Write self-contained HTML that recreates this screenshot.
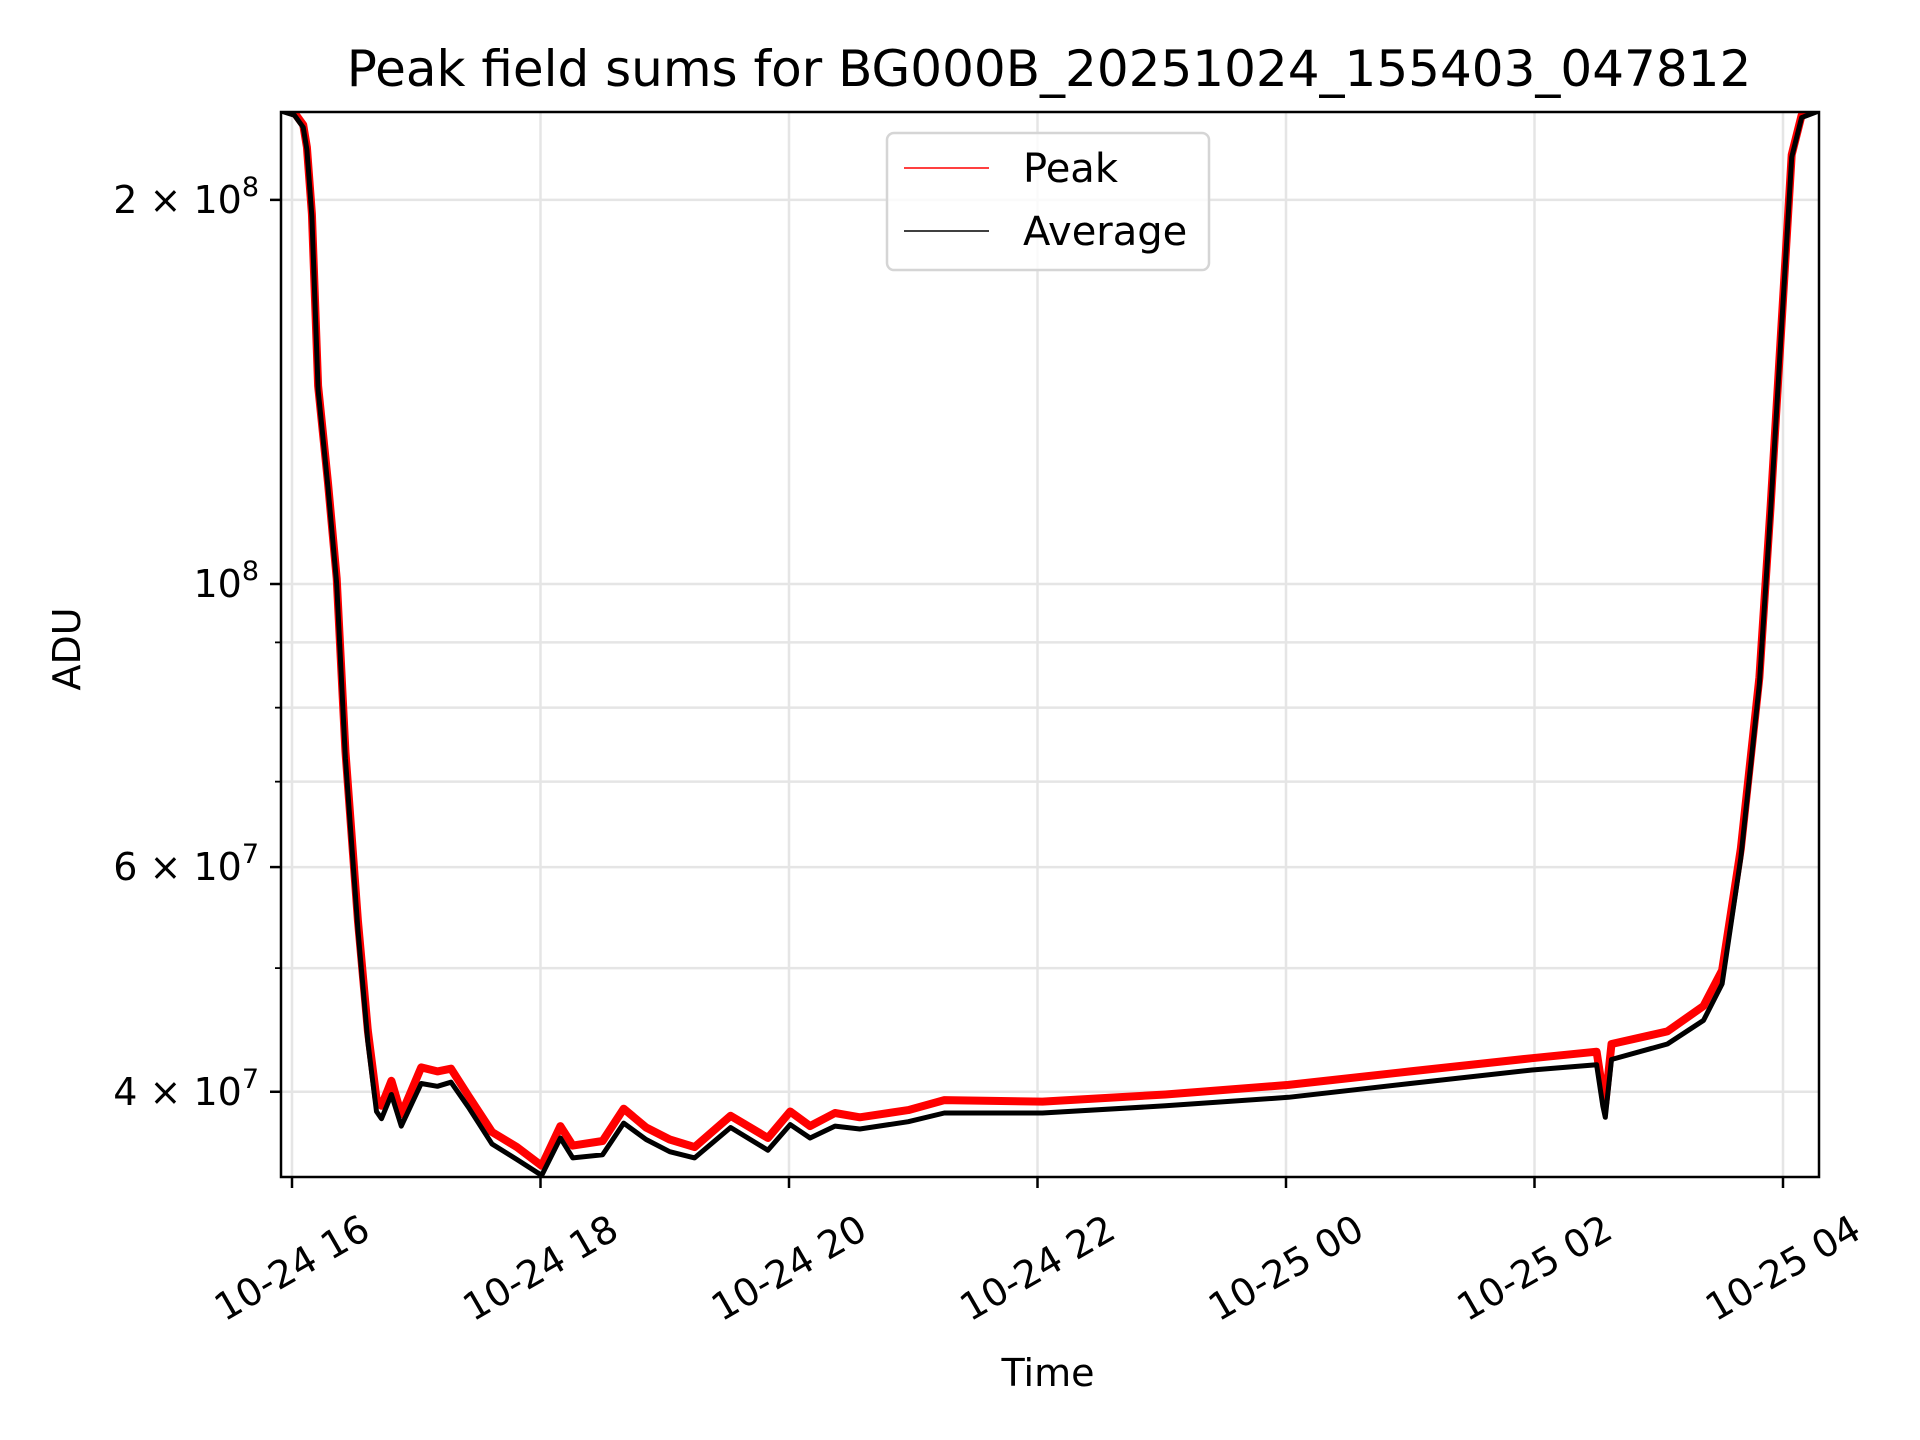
<!DOCTYPE html>
<html><head><meta charset="utf-8"><style>
html,body{margin:0;padding:0;background:#fff;}
svg{display:block;font-family:"DejaVu Sans","Liberation Sans",sans-serif;}
</style></head><body>
<svg id="chart" width="1920" height="1440" viewBox="0 0 1920 1440" xmlns="http://www.w3.org/2000/svg">
<rect width="1920" height="1440" fill="#fff"/>
<g id="grid"></g>
<g id="series"></g>
<rect x="281" y="112" width="1538" height="1065" fill="none" stroke="#000" stroke-width="2.5"/>
<g id="axes"></g>
<text x="1049" y="86" font-size="50" text-anchor="middle">Peak field sums for BG000B_20251024_155403_047812</text>
<text x="1048" y="1386" font-size="38" text-anchor="middle">Time</text>
<text x="0" y="0" font-size="38" text-anchor="middle" transform="translate(80,649) rotate(-90)">ADU</text>
<g>
<rect x="887" y="133" width="322" height="137" rx="7" fill="#fff" fill-opacity="0.8" stroke="#d5d5d5" stroke-width="2.5"/>
<line x1="904" y1="168" x2="989" y2="168" stroke="#ff0000" stroke-width="1.5"/>
<text x="1023" y="182" font-size="40">Peak</text>
<line x1="904" y1="231" x2="989" y2="231" stroke="#000" stroke-width="1.5"/>
<text x="1023" y="245" font-size="40">Average</text>
</g>
</svg>
<script>
const hours = [-0.1,0.02,0.09,0.12,0.16,0.21,0.29,0.36,0.43,0.53,0.61,0.68,0.72,0.80,0.88,1.04,1.17,1.28,1.42,1.61,1.81,2.01,2.16,2.26,2.50,2.67,2.85,3.04,3.24,3.53,3.83,4.01,4.17,4.37,4.57,4.96,5.25,6.04,7.03,8.02,9.0,9.98,10.50,10.55,10.57,10.62,11.07,11.36,11.51,11.66,11.81,11.90,12.0,12.07,12.15,12.30];
const peakValues = [2.36e8,2.34e8,2.29e8,2.2e8,1.95e8,1.43e8,1.2e8,1.01e8,7.4e7,5.45e7,4.47e7,3.95e7,3.9e7,4.08e7,3.84e7,4.18e7,4.15e7,4.17e7,3.97e7,3.72e7,3.62e7,3.5e7,3.76e7,3.63e7,3.66e7,3.88e7,3.75e7,3.67e7,3.62e7,3.83e7,3.68e7,3.86e7,3.76e7,3.85e7,3.82e7,3.87e7,3.94e7,3.93e7,3.98e7,4.05e7,4.15e7,4.25e7,4.3e7,4.0e7,3.92e7,4.36e7,4.46e7,4.67e7,4.98e7,6.2e7,8.45e7,1.15e8,1.67e8,2.17e8,2.33e8,2.36e8];
const avgValues = [2.35e8,2.33e8,2.28e8,2.19e8,1.94e8,1.42e8,1.19e8,1.0e8,7.3e7,5.36e7,4.38e7,3.86e7,3.81e7,3.98e7,3.76e7,4.06e7,4.04e7,4.07e7,3.89e7,3.64e7,3.54e7,3.44e7,3.68e7,3.55e7,3.57e7,3.78e7,3.67e7,3.59e7,3.55e7,3.75e7,3.6e7,3.77e7,3.68e7,3.76e7,3.74e7,3.79e7,3.85e7,3.85e7,3.9e7,3.96e7,4.06e7,4.16e7,4.2e7,3.9e7,3.82e7,4.24e7,4.36e7,4.55e7,4.86e7,6.1e7,8.35e7,1.14e8,1.66e8,2.16e8,2.32e8,2.35e8];
const xTickHours = [0,2,4,6,8,10,12];
const xTickLabels = ["10-24 16","10-24 18","10-24 20","10-24 22","10-25 00","10-25 02","10-25 04"];
const yMajorValues = [4e7,6e7,1e8,2e8];
const yMajorBase = ["4","6","","2"];
const yMajorExp = ["7","7","8","8"];
const yMinorValues = [5e7,7e7,8e7,9e7];

const NS="http://www.w3.org/2000/svg";
const X0=281,X1=1819,Y0=112,Y1=1177;
function xScale(h){return 292+124.25*h;}
function yScale(v){return 584-1276*Math.log10(v/1e8);}
function mk(tag,attrs,parent){const e=document.createElementNS(NS,tag);for(const k in attrs)e.setAttribute(k,attrs[k]);parent.appendChild(e);return e;}
const grid=document.getElementById('grid'),axes=document.getElementById('axes'),series=document.getElementById('series');

xTickHours.forEach((h,i)=>{
  const x=xScale(h);
  const gl=mk('line',{x1:x,x2:x,y1:Y0,y2:Y1,stroke:'#e5e5e5','stroke-width':2.5},grid);
  
  
  const t=mk('line',{x1:x,x2:x,y1:Y1,y2:Y1+11,stroke:'#000','stroke-width':2.5},axes);
  
  
  const lb=mk('text',{x:0,y:0,'font-size':38,'text-anchor':'middle','dominant-baseline':'central',transform:`translate(${x},1268) rotate(-30)`},axes);
  lb.textContent=xTickLabels[i];
  
  
});
yMajorValues.forEach((v,i)=>{
  const y=yScale(v);
  const gl=mk('line',{x1:X0,x2:X1,y1:y,y2:y,stroke:'#e5e5e5','stroke-width':2.5},grid);
  
  
  const t=mk('line',{x1:X0-11,x2:X0,y1:y,y2:y,stroke:'#000','stroke-width':2.5},axes);
  
  
  const lb=mk('text',{x:X0-22,y:y+13,'font-size':38,'text-anchor':'end'},axes);
  
  
  const pre=yMajorBase[i]?yMajorBase[i]+' \u00d7 10':'10';
  const s1=mk('tspan',{},lb);s1.textContent=pre;
  const s2=mk('tspan',{dy:-17,'font-size':27},lb);s2.textContent=yMajorExp[i];
});
yMinorValues.forEach(v=>{
  const y=yScale(v);
  const gl=mk('line',{x1:X0,x2:X1,y1:y,y2:y,stroke:'#e5e5e5','stroke-width':2.5},grid);
  
  
  const t=mk('line',{x1:X0-6,x2:X0,y1:y,y2:y,stroke:'#000','stroke-width':1.8},axes);
  
  
});
function pts(vals){return hours.map((h,i)=>xScale(h).toFixed(1)+','+yScale(vals[i]).toFixed(1)).join(' ');}
mk('clipPath',{id:'clip'},series).appendChild(document.createElementNS(NS,'rect'));
const cr=series.querySelector('#clip rect');cr.setAttribute('x',X0);cr.setAttribute('y',Y0);cr.setAttribute('width',X1-X0);cr.setAttribute('height',Y1-Y0);
const pl=mk('polyline',{points:pts(peakValues),fill:'none',stroke:'#ff0000','stroke-width':8,'stroke-linejoin':'round','clip-path':'url(#clip)'},series);


const al=mk('polyline',{points:pts(avgValues),fill:'none',stroke:'#000','stroke-width':5,'stroke-linejoin':'round','clip-path':'url(#clip)'},series);


</script>
</body></html>
